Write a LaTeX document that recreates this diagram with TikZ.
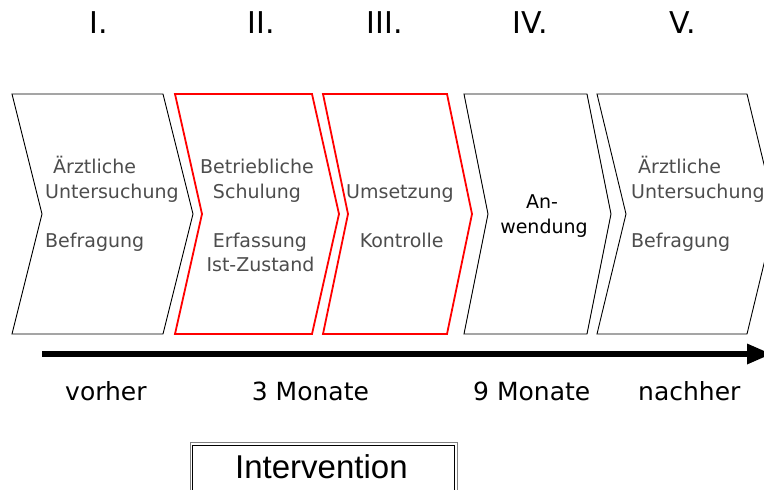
\documentclass[tikz,border=0pt]{standalone}
\usepackage{fontspec}
\setmainfont{DejaVu Sans}
\newfontfamily\arialfont{Liberation Sans}
\definecolor{txtgray}{HTML}{4D4D4D}
\definecolor{stepred}{HTML}{FF0000}
\tikzset{
  chev/.style={draw=black, line width=0.9pt, fill=white, line join=miter},
  chevred/.style={draw=stepred, line width=1.8pt, fill=white, line join=miter},
  steptext/.style={inner sep=0pt, font=\fontsize{19}{23}\selectfont, text=txtgray},
  numeral/.style={inner sep=0pt, anchor=base, font=\fontsize{30}{36}\selectfont},
  timelabel/.style={inner sep=0pt, anchor=base west, font=\fontsize{25}{30}\selectfont},
}
% chevron: left x, right x, depth of point/notch
\newcommand{\chevronpath}[4]{%
  \draw[#1] (#2,94) -- (#3,94) -- ({#3+#4},214) -- (#3,334) -- (#2,334) -- ({#2+#4},214) -- cycle;}
\begin{document}
\begin{tikzpicture}[x=1pt, y=-1pt]
\useasboundingbox (0,0) rectangle (764,490);

% phase numerals
\node[numeral] (n1) at (98.5,33) {I.};
\node[numeral] (n2) at (261,33) {II.};
\node[numeral] (n3) at (385,33) {III.};
\node[numeral] (n4) at (530,33) {IV.};
\node[numeral] (n5) at (683,33) {V.};

% process chevrons
\chevronpath{chev}{12}{163}{30}
\chevronpath{chevred}{175}{312}{27}
\chevronpath{chevred}{323}{447}{25}
\chevronpath{chev}{464}{587}{24}
\chevronpath{chev}{597}{747}{29}

% phase I
\node[steptext, anchor=base west] (a1) at (53,173) {Ärztliche};
\node[steptext, anchor=base west] (a2) at (45,198) {Untersuchung};
\node[steptext, anchor=base west] (a3) at (45,247) {Befragung};
% phase II
\node[steptext, anchor=base] (b1) at (257,173) {Betriebliche};
\node[steptext, anchor=base] (b2) at (257,198) {Schulung};
\node[steptext, anchor=base] (b3) at (260,247) {Erfassung};
\node[steptext, anchor=base] (b4) at (260.5,271) {Ist-Zustand};
% phase III
\node[steptext, anchor=base] (c1) at (400,198) {Umsetzung};
\node[steptext, anchor=base] (c2) at (401.7,247) {Kontrolle};
% phase IV
\node[steptext, anchor=base, text=black] (d1) at (542,208) {An-};
\node[steptext, anchor=base, text=black] (d2) at (544,233) {wendung};
% phase V
\node[steptext, anchor=base west] (e1) at (638,173) {Ärztliche};
\node[steptext, anchor=base west] (e2) at (631,198) {Untersuchung};
\node[steptext, anchor=base west] (e3) at (631,247) {Befragung};

% time axis
\coordinate (tstart) at (42,354);
\coordinate (tend) at (747,354);
\coordinate (ttip) at (771,354);
\draw[line width=6.7pt] (tstart) -- (tend);
\fill (tend) ++(0,-10.5) -- (ttip) -- ++(-24,10.5) -- cycle;

\node[timelabel] (t1) at (65,400) {vorher};
\node[timelabel] (t2) at (251.7,400) {3 Monate};
\node[timelabel] (t3) at (473,400) {9 Monate};
\node[timelabel] (t4) at (638,400) {nachher};

% intervention box (double frame, runs off the lower edge)
\draw[line width=1pt, draw=gray] (190,442.7) rectangle (457.3,500);
\draw[line width=1pt, draw=black] (192.7,445.3) rectangle (454.3,500);
\node[inner sep=0pt, anchor=base west, font=\arialfont\fontsize{33}{40}\selectfont] (iv) at (235,478) {Intervention};
\end{tikzpicture}
\end{document}
